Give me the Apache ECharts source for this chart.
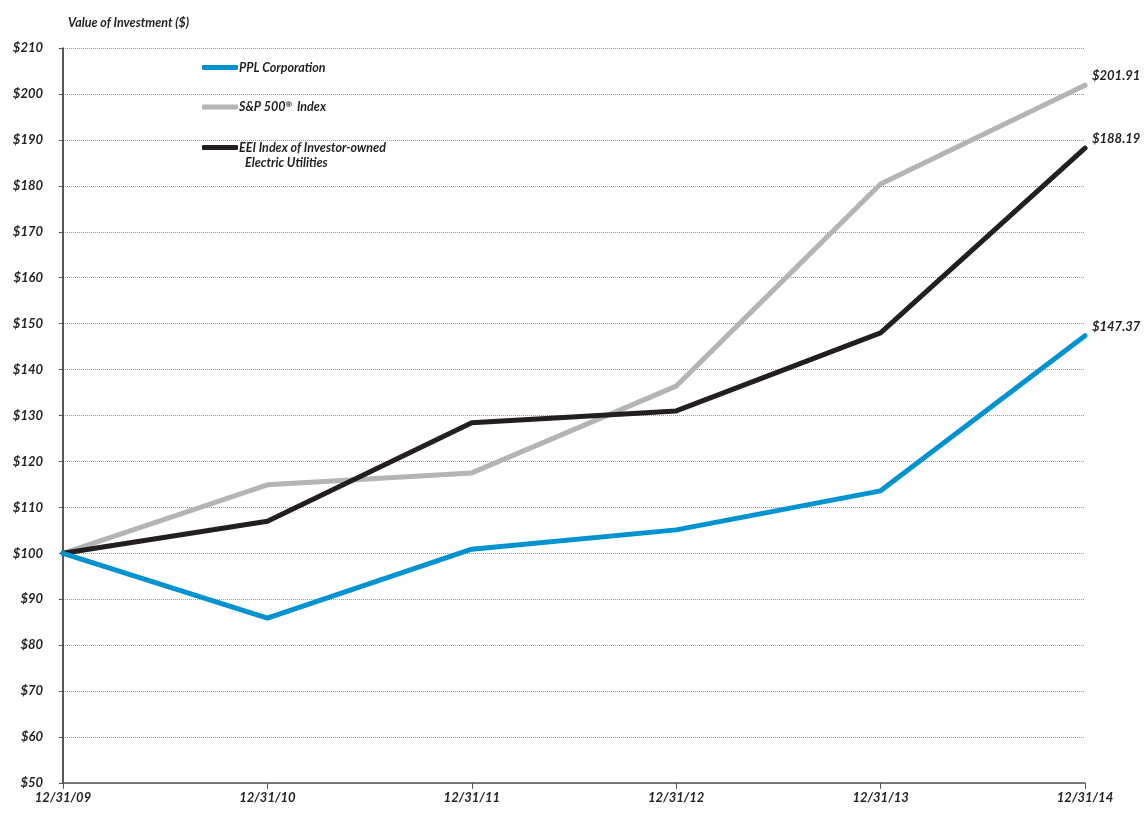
<!DOCTYPE html>
<html>
<head>
<meta charset="utf-8">
<script src="https://cdn.jsdelivr.net/npm/echarts@6/dist/echarts.min.js"></script>
<style>
  html, body { margin: 0; padding: 0; background: #fff; }
  #chart { width: 1147px; height: 815px; }
</style>
</head>
<body>
<div id="chart"></div>
<script>
// 数据
const dates = ['12/31/09', '12/31/10', '12/31/11', '12/31/12', '12/31/13', '12/31/14']
const pplValues = [100, 85.9, 100.9, 105.1, 113.6, 147.37]
const spValues = [100, 114.9, 117.5, 136.4, 180.4, 201.91]
const eeiValues = [100, 107.0, 128.4, 131.0, 148.0, 188.19]

const FONT = 'Lato'
const TEXT_COLOR = '#231f20'
const EEI_NAME = 'EEI Index of Investor-owned'

const chart = echarts.init(document.getElementById('chart'))

const textBase = {
  fontFamily: FONT,
  fontStyle: 'italic',
  fontWeight: 'bold',
  color: TEXT_COLOR
}

const makeSeries = (name, data, color, z) => ({
  name,
  type: 'line',
  data,
  z,
  symbol: 'none',
  lineStyle: { width: 5, color, cap: 'round', join: 'round' },
  itemStyle: { color },
  endLabel: {
    show: true,
    distance: 3,
    formatter: p => '$' + p.value.toFixed(2),
    ...textBase,
    fontSize: 13,
    offset: [4, -9]
  },
  emphasis: { disabled: true }
})

const legendBase = {
  orient: 'vertical',
  left: 197,
  itemWidth: 36,
  itemHeight: 5,
  itemGap: 22,
  icon: 'roundRect',
  selectedMode: false,
  textStyle: {
    ...textBase,
    fontSize: 12.5,
    padding: [0, 0, 0, -4],
    rich: {
      sup: { ...textBase, fontSize: 8, verticalAlign: 'top', padding: [0, 2, 6, 0] }
    }
  }
}

const option = {
  animation: false,
  title: {
    text: 'Value of Investment ($)',
    left: 63,
    top: 11,
    textStyle: { ...textBase, fontSize: 12.5 }
  },
  legend: [
    {
      ...legendBase,
      top: 56,
      itemGap: 26,
      formatter: name => name === 'S&P 500® Index' ? 'S&P 500{sup|®} Index' : name,
      data: ['PPL Corporation', 'S&P 500® Index']
    },
    {
      ...legendBase,
      top: 136,
      data: [EEI_NAME]
    }
  ],
  graphic: [{
    type: 'text',
    left: 245,
    top: 156,
    style: { text: 'Electric Utilities', ...textBase, fill: TEXT_COLOR, fontSize: 12.5 }
  }],
  grid: { left: 63, right: 62, top: 48, bottom: 32 },
  xAxis: {
    type: 'category',
    data: dates,
    boundaryGap: false,
    axisLine: { lineStyle: { color: '#555', width: 1.5 } },
    axisTick: { show: true, length: 6, lineStyle: { color: '#555' } },
    axisLabel: { margin: 8, ...textBase, fontSize: 13 },
    splitLine: { show: false }
  },
  yAxis: {
    type: 'value',
    min: 50,
    max: 210,
    interval: 10,
    axisLine: { show: true, lineStyle: { color: '#231f20', width: 1.5 } },
    axisTick: { show: true, length: 4, lineStyle: { color: '#555' } },
    axisLabel: { margin: 20, formatter: v => '$' + v, ...textBase, fontSize: 13 },
    splitLine: { lineStyle: { color: '#9a9a9a', type: [1, 1], width: 1 } }
  },
  series: [
    makeSeries('PPL Corporation', pplValues, '#0093d0', 3),
    makeSeries('S&P 500® Index', spValues, '#b3b4b6', 1),
    makeSeries(EEI_NAME, eeiValues, '#231f20', 2)
  ]
}

chart.setOption(option)
</script>
</body>
</html>
